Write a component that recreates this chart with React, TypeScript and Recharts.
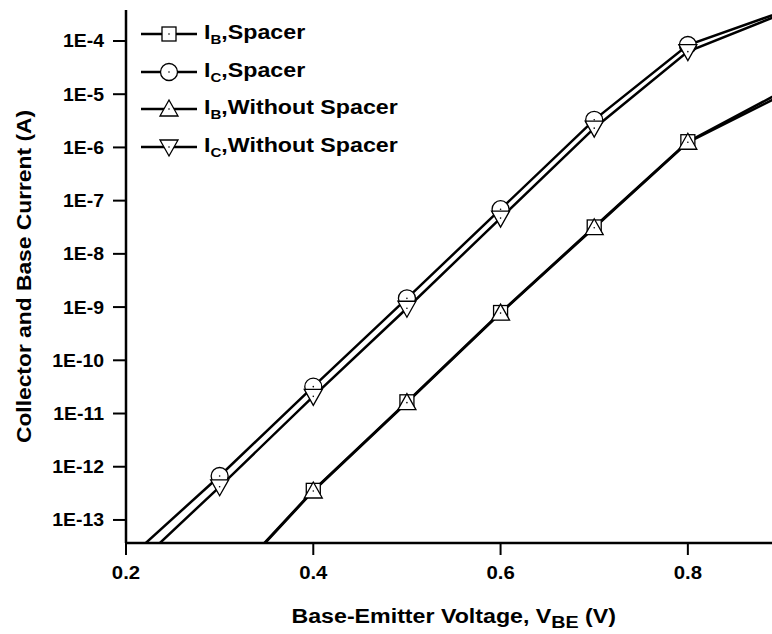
import { Legend, Line, LineChart, XAxis, YAxis } from "recharts";

// base-emitter voltage (V)
const vbe = [0.2, 0.3, 0.4, 0.5, 0.6, 0.7, 0.8, 0.9];

// currents (A); first/last points run past the frame
const ibSpacer = [6e-17, 4.6e-15, 3.6e-13, 1.66e-11, 7.9e-10, 3.2e-8, 1.28e-6, 1.1e-5];
const icSpacer = [1.7e-14, 6.7e-13, 3.2e-11, 1.46e-9, 6.9e-8, 3.3e-6, 8.4e-5, 3.5e-4];
const ibWithout = [5.5e-17, 4.4e-15, 3.5e-13, 1.6e-11, 7.7e-10, 3.1e-8, 1.25e-6, 9.5e-6];
const icWithout = [9.3e-15, 4.2e-13, 2.1e-11, 9.5e-10, 4.7e-8, 2.3e-6, 6.3e-5, 3.2e-4];

const markerVbe = [0.3, 0.4, 0.5, 0.6, 0.7, 0.8];
const xTicks = [0.2, 0.4, 0.6, 0.8];
const yTicks = [1e-13, 1e-12, 1e-11, 1e-10, 1e-9, 1e-8, 1e-7, 1e-6, 1e-5, 1e-4];
const yDomain: [number, number] = [3.69e-14, 3.82e-4];

const series = [
  { key: "ibSpacer", sub: "B", name: ",Spacer", shape: "square" },
  { key: "icSpacer", sub: "C", name: ",Spacer", shape: "circle" },
  { key: "ibWithout", sub: "B", name: ",Without Spacer", shape: "up" },
  { key: "icWithout", sub: "C", name: ",Without Spacer", shape: "down" },
];

const data = vbe.map((v, i) => ({
  vbe: v,
  ibSpacer: ibSpacer[i],
  icSpacer: icSpacer[i],
  ibWithout: ibWithout[i],
  icWithout: icWithout[i],
}));

const FONT = "Arial, 'Liberation Sans', sans-serif";

function Marker({ shape, cx, cy }: { shape: string; cx: number; cy: number }) {
  const st = { fill: "#fff", stroke: "#000", strokeWidth: 1.3 };
  let body;
  if (shape === "square") {
    body = <rect x={cx - 7} y={cy - 7} width={14} height={14} {...st} />;
  } else if (shape === "circle") {
    body = <circle cx={cx} cy={cy} r={8.5} {...st} />;
  } else if (shape === "up") {
    body = <polygon points={`${cx},${cy - 9} ${cx + 9},${cy + 7} ${cx - 9},${cy + 7}`} {...st} />;
  } else {
    body = <polygon points={`${cx},${cy + 9} ${cx + 9},${cy - 7} ${cx - 9},${cy - 7}`} {...st} />;
  }
  return (
    <g>
      {body}
      <circle cx={cx} cy={cy} r={0.8} fill="#000" />
    </g>
  );
}

function renderDot(shape: string, key: string) {
  return (props: any) => {
    const { cx, cy, payload, index } = props;
    const v = payload ? payload[key] : null;
    const show =
      payload && markerVbe.includes(payload.vbe) && v != null && v >= yDomain[0] && cx != null && cy != null;
    if (!show) return <g key={`${key}-${index}`} />;
    return (
      <g key={`${key}-${index}`}>
        <Marker shape={shape} cx={cx} cy={cy} />
      </g>
    );
  };
}

function LegendBox() {
  return (
    <div style={{ fontFamily: FONT, color: "#000" }}>
      {series.map((s) => (
        <div key={s.key} style={{ display: "flex", alignItems: "center", height: 37.7 }}>
          <svg width={60} height={30} style={{ display: "block" }}>
            <line x1={1} x2={57} y1={15} y2={15} stroke="#000" strokeWidth={2.5} />
            <Marker shape={s.shape} cx={29} cy={15} />
          </svg>
          <span
            style={{
              fontSize: 20,
              fontWeight: "bold",
              marginLeft: 4,
              whiteSpace: "nowrap",
              display: "inline-block",
              transform: "scaleX(1.16)",
              transformOrigin: "left center",
            }}
          >
            I<sub style={{ fontSize: 13 }}>{s.sub}</sub>
            {s.name}
          </span>
        </div>
      ))}
    </div>
  );
}

const fmtY = (v: number) => `1E${Math.round(Math.log10(v))}`;

function XTick(props: any) {
  const { x, y, payload } = props;
  return (
    <g transform={`translate(${x},${y})`}>
      <text
        transform="scale(1.1,1)"
        textAnchor="middle"
        dy="0.71em"
        fill="#000"
        fontSize={18.5}
        fontWeight="bold"
        fontFamily={FONT}
      >
        {Number(payload.value).toFixed(1)}
      </text>
    </g>
  );
}

function YTick(props: any) {
  const { x, y, payload } = props;
  return (
    <g transform={`translate(${x},${y})`}>
      <text
        transform="scale(1.08,1)"
        textAnchor="end"
        dy="0.36em"
        fill="#000"
        fontSize={18}
        fontWeight="bold"
        fontFamily={FONT}
      >
        {fmtY(payload.value)}
      </text>
    </g>
  );
}

export default function App() {
  return (
    <div
      style={{
        position: "absolute",
        left: 0,
        top: 0,
        width: 772,
        height: 634,
        overflow: "hidden",
        background: "#fff",
      }}
    >
      <LineChart width={790} height={634} data={data} margin={{ top: 10, right: 8.5, bottom: 0, left: 0 }}>
        <XAxis
          dataKey="vbe"
          type="number"
          domain={[0.2, 0.9]}
          ticks={xTicks}
          tickSize={12}
          tickMargin={11}
          axisLine={{ stroke: "#000", strokeWidth: 2.5 }}
          tickLine={{ stroke: "#000", strokeWidth: 2 }}
          tick={<XTick />}
          height={91}
          label={{
            content: (p: any) => {
              const vb = p.viewBox || { x: 126, width: 655 };
              const cx = vb.x + vb.width / 2;
              return (
                <g transform={`translate(${cx},623) scale(1.16,1)`}>
                  <text
                    x={0}
                    y={0}
                    textAnchor="middle"
                    fill="#000"
                    fontSize={20}
                    fontWeight="bold"
                    fontFamily={FONT}
                  >
                    Base-Emitter Voltage, V
                    <tspan fontSize={17} dy={5}>
                      BE
                    </tspan>
                    <tspan dy={-5}> (V)</tspan>
                  </text>
                </g>
              );
            },
          }}
        />
        <XAxis
          xAxisId="top"
          orientation="top"
          dataKey="vbe"
          type="number"
          domain={[0.2, 0.9]}
          height={0}
          tick={false}
          tickLine={false}
          axisLine={{ stroke: "#000", strokeWidth: 2.5 }}
        />
        <YAxis
          type="number"
          scale="log"
          domain={yDomain}
          allowDataOverflow
          ticks={yTicks}
          width={126}
          tickSize={13}
          tickMargin={9}
          axisLine={{ stroke: "#000", strokeWidth: 2.5 }}
          tickLine={{ stroke: "#000", strokeWidth: 2 }}
          tick={<YTick />}
          label={{
            content: (p: any) => {
              const vb = p.viewBox || { y: 10, height: 533 };
              const cy = vb.y + vb.height / 2;
              return (
                <g transform={`translate(24,${cy}) rotate(-90) scale(1.14,1)`}>
                  <text
                    x={0}
                    y={0}
                    textAnchor="middle"
                    dominantBaseline="central"
                    fill="#000"
                    fontSize={20}
                    fontWeight="bold"
                    fontFamily={FONT}
                  >
                    Collector and Base Current (A)
                  </text>
                </g>
              );
            },
          }}
        />
        <Legend
          layout="vertical"
          align="center"
          verticalAlign="middle"
          content={() => <LegendBox />}
          wrapperStyle={{ left: 140, top: 15, width: "auto" }}
        />
        {series.map((s) => (
          <Line
            key={s.key}
            dataKey={s.key}
            type="linear"
            stroke="#000"
            strokeWidth={2.5}
            dot={renderDot(s.shape, s.key)}
            activeDot={false}
            isAnimationActive={false}
            legendType="none"
          />
        ))}
      </LineChart>
    </div>
  );
}
